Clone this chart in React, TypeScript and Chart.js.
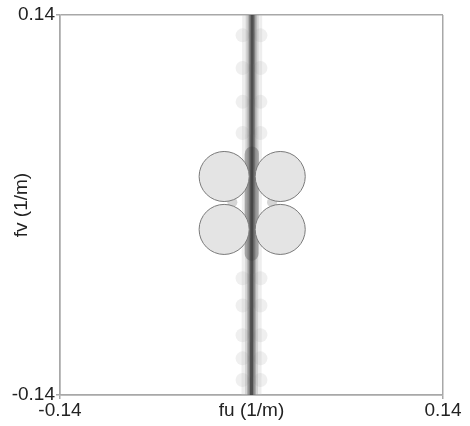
import React, { useEffect, useRef } from "react";
import { Chart, registerables } from "chart.js";

Chart.register(...registerables);

// Axis range and ticks
const axisMin = -0.14;
const axisMax = 0.14;
const xTickValues = [-0.14, 0, 0.14];
const yTickValues = [-0.14, 0.14];
const xTitle = "fu (1/m)";
const yTitle = "fv (1/m)";

// Central dark stripe (fu, fv)
const stripeX = [0.0005, 0.0];
const stripeY = [0.14, -0.14];
// darker widened band between the circles
const bandX = [0.0003, 0.0001];
const bandY = [0.038, -0.036];

// light blurry blobs along the stripe
const blobY = [0.125, 0.101, 0.076, 0.053, -0.054, -0.074, -0.096, -0.113, -0.129];
const blobOffset = [-0.0065, 0.0065];
// small shaded bits between the circle pairs
const gapX = [-0.014, 0.015];
const gapY = [0.002, 0.002];

// Four circles
const circleX = [-0.020, 0.021, -0.020, 0.021];
const circleY = [0.021, 0.021, -0.018, -0.018];
const circleR = 0.0183;

// stripe layers: widths (px) and shades, outer to inner
const stripeWidths = [20, 13, 9, 6, 3];
const stripeShades = [
  "rgba(195,195,195,0.28)",
  "rgba(160,160,160,0.35)",
  "rgba(120,120,120,0.40)",
  "rgba(80,80,80,0.50)",
  "rgba(40,40,40,0.55)",
];

const pts = (xs: number[], ys: number[]) => xs.map((x, i) => ({ x, y: ys[i] }));

export default function App() {
  const ref = useRef<HTMLCanvasElement>(null);
  useEffect(() => {
    if (!ref.current) return;
    const blobs: { x: number; y: number }[] = [];
    blobY.forEach((y) => blobOffset.forEach((o) => blobs.push({ x: o, y })));
    const gridColor = (c: any) =>
      c.tick && Math.abs(c.tick.value) < 1e-9 ? "rgba(0,0,0,0)" : "#a8a8a8";
    const family = "'Liberation Sans', Arial, sans-serif";
    const stripeSets = stripeWidths.map((w, i) => ({
      type: "line",
      data: pts(stripeX, stripeY),
      borderColor: stripeShades[i],
      borderWidth: w,
      pointRadius: 0,
      order: 10 - i,
    }));
    const chart = new Chart(ref.current, {
      type: "scatter",
      data: {
        datasets: [
          ...stripeSets,
          {
            data: blobs,
            backgroundColor: "rgba(190,190,190,0.25)",
            borderWidth: 0,
            pointRadius: 7,
            order: 12,
          },
          {
            data: pts(gapX, gapY),
            backgroundColor: "rgba(150,150,150,0.4)",
            borderWidth: 0,
            pointRadius: 5,
            order: 12,
          },
          {
            type: "line",
            data: pts(bandX, bandY),
            borderColor: "rgba(100,100,100,0.45)",
            borderWidth: 14,
            borderCapStyle: "round",
            pointRadius: 0,
            order: 7,
          } as any,
          {
            data: pts(circleX, circleY),
            backgroundColor: "#e4e4e4",
            borderColor: "#7a7a7a",
            borderWidth: 1,
            pointRadius: (c: any) => {
              const s = c.chart.scales.x;
              return Math.abs(s.getPixelForValue(circleR) - s.getPixelForValue(0));
            },
            order: 1,
          } as any,
        ],
      },
      options: {
        responsive: false,
        animation: false,
        events: [],
        layout: { padding: { left: 0, right: 27, top: 15, bottom: 0 } },
        plugins: { legend: { display: false }, tooltip: { enabled: false } },
        scales: {
          x: {
            type: "linear",
            min: axisMin,
            max: axisMax,
            afterBuildTicks: (s: any) => {
              s.ticks = xTickValues.map((v) => ({ value: v }));
            },
            afterFit: (s: any) => {
              s.height = 31;
            },
            ticks: {
              autoSkip: false,
              maxRotation: 0,
              padding: 0,
              color: "#222",
              font: { family, size: 19 },
              callback: (v: any) => (Math.abs(v) < 1e-9 ? xTitle : Number(v).toFixed(2)),
            },
            grid: { color: gridColor, lineWidth: 1.5, tickLength: 4 },
            border: { color: "#a8a8a8", width: 1.5 },
          },
          y: {
            type: "linear",
            min: axisMin,
            max: axisMax,
            afterBuildTicks: (s: any) => {
              s.ticks = yTickValues.map((v) => ({ value: v }));
            },
            afterFit: (s: any) => {
              s.width = 60;
            },
            ticks: {
              autoSkip: false,
              padding: 1,
              color: "#222",
              font: { family, size: 19 },
              callback: (v: any) => Number(v).toFixed(2),
            },
            title: {
              display: true,
              text: yTitle,
              color: "#222",
              font: { family, size: 19 },
              padding: { top: 10, bottom: 0 },
            },
            grid: { color: gridColor, lineWidth: 1.5, tickLength: 4 },
            border: { color: "#a8a8a8", width: 1.5 },
          },
        },
      },
    } as any);
    return () => chart.destroy();
  }, []);
  return (
    <div style={{ position: "fixed", left: 0, top: 0, width: 470, height: 426, background: "#fff" }}>
      <canvas ref={ref} width={470} height={426} />
    </div>
  );
}
